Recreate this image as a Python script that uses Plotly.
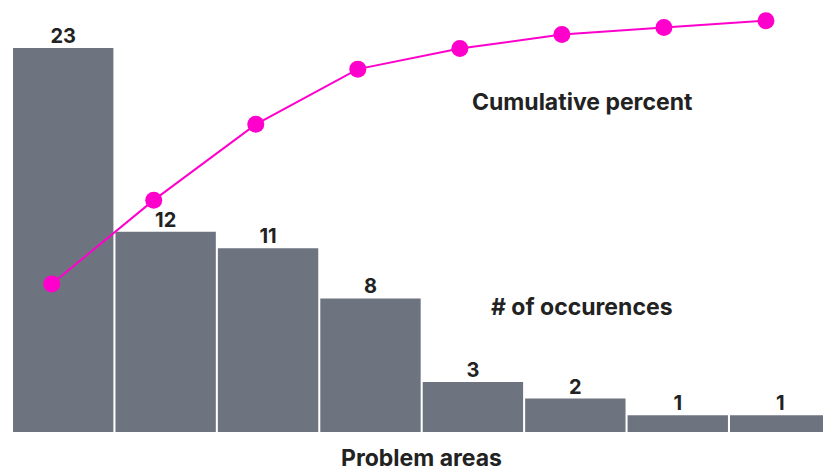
import plotly.graph_objects as go

categories = ["A", "B", "C", "D", "E", "F", "G", "H"]
occurrences = [23, 12, 11, 8, 3, 2, 1, 1]
cumulative_pct = [37.5, 57.4, 75.4, 88.5, 93.4, 96.7, 98.4, 100.0]

BAR = "#6E7380"
LINE = "#FF00CC"
TXT = "#222222"
FONT = "Inter"

W, H = 823, 470
L = 12

xs = list(range(len(categories)))

fig = go.Figure()
fig.add_trace(go.Bar(
    x=xs, y=occurrences, marker_color=BAR, marker_line_width=0,
    xaxis="x", yaxis="y", hoverinfo="skip",
))
fig.add_trace(go.Scatter(
    x=xs, y=occurrences, mode="text", text=[str(v) for v in occurrences],
    textposition="top center",
    textfont=dict(family=FONT, size=20, color=TXT, weight="bold"),
    xaxis="x", yaxis="y", cliponaxis=False, hoverinfo="skip",
))
fig.add_trace(go.Scatter(
    x=xs, y=cumulative_pct, mode="lines+markers",
    line=dict(color=LINE, width=2), marker=dict(color=LINE, size=17),
    xaxis="x2", yaxis="y2", cliponaxis=False, hoverinfo="skip",
))

def px(x):
    return (x - L) / (W - L)

def py(y):
    return 1 - y / H

ann_font = dict(size=23, color=TXT, family=FONT)
fig.update_layout(
    width=W, height=H, margin=dict(l=L, r=0, t=0, b=0),
    paper_bgcolor="white", plot_bgcolor="white", showlegend=False,
    bargap=0.02,
    font=dict(family=FONT, color=TXT),
    xaxis=dict(visible=False, range=[-0.5, 7.418]),
    xaxis2=dict(visible=False, overlaying="x", range=[-0.389, 7.559]),
    yaxis=dict(visible=False, range=[-2.276, 25.874]),
    yaxis2=dict(visible=False, overlaying="y", range=[-6.65, 104.91]),
    annotations=[
        dict(text="<b>Cumulative percent</b>", x=px(582), y=py(102), xref="paper", yref="paper",
             xanchor="center", yanchor="middle", showarrow=False, font=ann_font),
        dict(text="<b># of occurences</b>", x=px(582), y=py(307), xref="paper", yref="paper",
             xanchor="center", yanchor="middle", showarrow=False, font=ann_font),
        dict(text="<b>Problem areas</b>", x=px(421), y=py(458), xref="paper", yref="paper",
             xanchor="center", yanchor="middle", showarrow=False, font=ann_font),
    ],
)

fig.write_html("out.html")
